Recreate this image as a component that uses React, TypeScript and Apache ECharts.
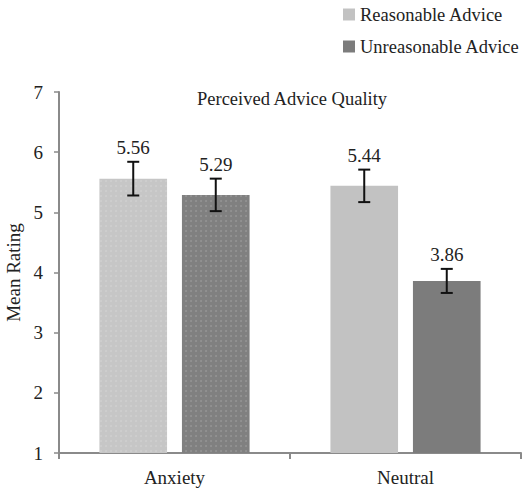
import React, { useEffect, useRef } from "react";
import * as echarts from "echarts";

const categories = ["Anxiety", "Neutral"];
const seriesNames = ["Reasonable Advice", "Unreasonable Advice"];
const reasonable = [5.56, 5.44];
const unreasonable = [5.29, 3.86];
const reasonableErr = [0.28, 0.27];
const unreasonableErr = [0.27, 0.2];
const yTicks = [1, 2, 3, 4, 5, 6, 7];

const FONT = "'Liberation Serif', 'Times New Roman', serif";
const LIGHT = "#c2c2c2";
const DARK = "#7c7c7c";

export default function App() {
  const ref = useRef<HTMLDivElement>(null);
  useEffect(() => {
    document.body.style.margin = "0";
    if (!ref.current) return;
    const chart = echarts.init(ref.current, undefined, { renderer: "svg" });
    const dotDecal = {
      symbol: "circle",
      symbolSize: 0.6,
      dashArrayX: [2, 3],
      dashArrayY: [2, 3],
      color: "rgba(255,255,255,0.35)",
    };
    const errData: any[] = [];
    reasonable.forEach((v, i) => errData.push([i, v, reasonableErr[i], 0]));
    unreasonable.forEach((v, i) => errData.push([i, v, unreasonableErr[i], 1]));
    const catGap = 0.35;
    const barGapRatio = 0.22;
    chart.setOption({
      animation: false,
      title: {
        text: "Perceived Advice Quality",
        left: 197,
        top: 89,
        padding: 0,
        textStyle: { fontFamily: FONT, fontSize: 18.5, fontWeight: "normal", color: "#222" },
      },
      legend: {
        orient: "vertical",
        left: 343,
        top: 5,
        padding: 0,
        itemWidth: 12,
        itemHeight: 12,
        itemGap: 13,
        icon: "rect",
        data: seriesNames,
        textStyle: { fontFamily: FONT, fontSize: 18.5, color: "#222", lineHeight: 19 },
      },
      grid: {
        left: 59,
        right: 1,
        top: 92,
        bottom: 37,
        containLabel: false,
        outerBoundsMode: "none",
      },
      xAxis: {
        type: "category",
        data: categories,
        axisLine: { lineStyle: { color: "#8a8a8a", width: 2 } },
        axisTick: { show: true, length: 6, lineStyle: { color: "#8a8a8a", width: 2 } },
        axisLabel: { fontFamily: FONT, fontSize: 19, color: "#222", margin: 15 },
      },
      yAxis: {
        type: "value",
        min: yTicks[0],
        max: yTicks[yTicks.length - 1],
        interval: 1,
        name: "Mean Rating",
        nameLocation: "middle",
        nameGap: 29,
        nameTextStyle: { fontFamily: FONT, fontSize: 19, color: "#222" },
        axisLine: { show: true, lineStyle: { color: "#8a8a8a", width: 2 } },
        axisTick: { show: true, length: 5, lineStyle: { color: "#8a8a8a", width: 1.5 } },
        splitLine: { show: false },
        axisLabel: { fontFamily: FONT, fontSize: 19, color: "#222", margin: 16 },
      },
      series: [
        {
          name: seriesNames[0],
          type: "bar",
          barCategoryGap: catGap * 100 + "%",
          barGap: barGapRatio * 100 + "%",
          itemStyle: { color: LIGHT },
          data: reasonable.map((v, i) =>
            i === 0 ? { value: v, itemStyle: { color: "#c6c6c6", decal: dotDecal } } : v
          ),
        },
        {
          name: seriesNames[1],
          type: "bar",
          itemStyle: { color: DARK },
          data: unreasonable.map((v, i) =>
            i === 0 ? { value: v, itemStyle: { color: "#808080", decal: dotDecal } } : v
          ),
        },
        {
          type: "custom",
          silent: true,
          z: 10,
          encode: { x: 0, y: 1 },
          data: errData,
          renderItem: (params: any, api: any) => {
            const cat = api.value(0);
            const val = api.value(1);
            const err = api.value(2);
            const s = api.value(3);
            const band = api.size([1, 0])[0];
            const total = band * (1 - catGap);
            const bw = total / (2 + barGapRatio);
            const off = (bw / 2 + (bw * barGapRatio) / 2) * (s === 0 ? -1 : 1);
            const top = api.coord([cat, val + err]);
            const bot = api.coord([cat, val - err]);
            const x = top[0] + off;
            const cap = 6;
            const st = { stroke: "#111", lineWidth: 2 };
            return {
              type: "group",
              children: [
                { type: "line", shape: { x1: x, y1: top[1], x2: x, y2: bot[1] }, style: st },
                { type: "line", shape: { x1: x - cap, y1: top[1], x2: x + cap, y2: top[1] }, style: st },
                { type: "line", shape: { x1: x - cap, y1: bot[1], x2: x + cap, y2: bot[1] }, style: st },
                {
                  type: "text",
                  style: {
                    text: val.toFixed(2),
                    x: x,
                    y: top[1] - 5,
                    textAlign: "center",
                    textVerticalAlign: "bottom",
                    font: "19px " + FONT,
                    fill: "#222",
                  },
                },
              ],
            };
          },
        },
      ],
    });
    return () => chart.dispose();
  }, []);
  return <div ref={ref} style={{ width: 522, height: 490 }} />;
}
